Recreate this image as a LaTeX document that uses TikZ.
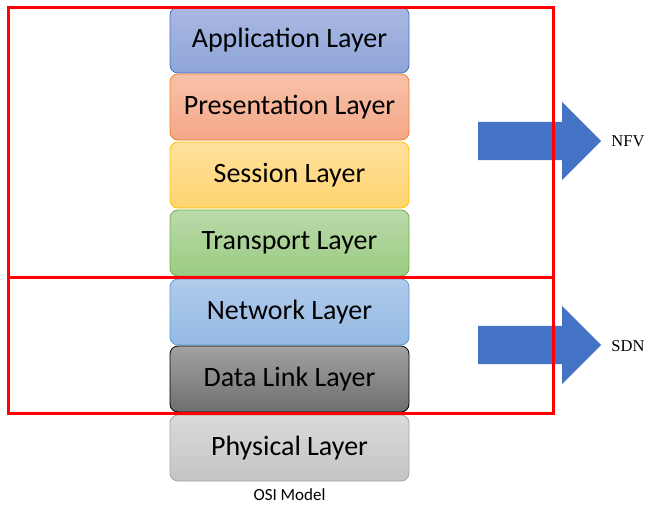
\documentclass[tikz,border=0pt]{standalone}
\usepackage{fontspec}
\setmainfont{Carlito}
\newfontfamily\notefont{Liberation Serif}
\usetikzlibrary{shapes.arrows}
\definecolor{appborder}{HTML}{4472C4}
\definecolor{preborder}{HTML}{ED7D31}
\definecolor{sesborder}{HTML}{FFC000}
\definecolor{traborder}{HTML}{70AD47}
\definecolor{netborder}{HTML}{5B9BD5}
\definecolor{phyborder}{HTML}{A5A5A5}
\definecolor{arrowblue}{HTML}{4472C4}
\definecolor{boxred}{HTML}{FF0000}

\begin{document}
\begin{tikzpicture}[x=1pt,y=-1pt,
  layer/.style={rectangle,rounded corners=8pt,draw,line width=0.8pt,minimum width=239pt,minimum height=66pt,font=\fontsize{28}{32}\selectfont},
  block arrow/.style={single arrow,fill=arrowblue,draw=none,minimum height=123pt,inner xsep=0pt,inner ysep=19pt,single arrow head extend=20pt,anchor=tail},
  region/.style={draw=boxred,line width=3pt}]
\useasboundingbox (0,0) rectangle (657,507);
% the seven layers
\node[layer,draw=appborder,top color={rgb,255:red,170;green,185;blue,226},bottom color={rgb,255:red,142;green,164;blue,216}] (l7) at (289.5,40) {Application Layer};
\node[layer,draw=preborder,top color={rgb,255:red,248;green,193;blue,169},bottom color={rgb,255:red,244;green,168;blue,136}] (l6) at (289.5,107) {Presentation Layer};
\node[layer,draw=sesborder,top color={rgb,255:red,255;green,225;blue,156},bottom color={rgb,255:red,255;green,212;blue,112}] (l5) at (289.5,175) {Session Layer};
\node[layer,draw=traborder,top color={rgb,255:red,186;green,218;blue,170},bottom color={rgb,255:red,155;green,203;blue,130}] (l4) at (289.5,243) {Transport Layer};
\node[layer,draw=netborder,top color={rgb,255:red,176;green,203;blue,235},bottom color={rgb,255:red,149;green,185;blue,227}] (l3) at (289.5,312) {Network Layer};
\node[layer,draw=black,top color={rgb,255:red,162;green,162;blue,162},bottom color={rgb,255:red,110;green,110;blue,110}] (l2) at (289.5,379) {Data Link Layer};
\node[layer,draw=phyborder,top color={rgb,255:red,218;green,218;blue,218},bottom color={rgb,255:red,196;green,196;blue,196}] (l1) at (289.5,448) {Physical Layer};
\node[font=\fontsize{17}{19}\selectfont] (osi) at (289.5,495) {OSI Model};
% arrows
\node[block arrow] (a1) at (478,141) {};
\node[block arrow] (a2) at (478,345) {};
\node[font=\notefont\fontsize{16.5}{18}\selectfont] (nfv) at (628,141) {NFV};
\node[font=\notefont\fontsize{16.5}{18}\selectfont] (sdn) at (628,346) {SDN};
% regions
\draw[region] (8,7) rectangle (553,277);
\draw[region] (8,277) rectangle (553,413);
\end{tikzpicture}
\end{document}
